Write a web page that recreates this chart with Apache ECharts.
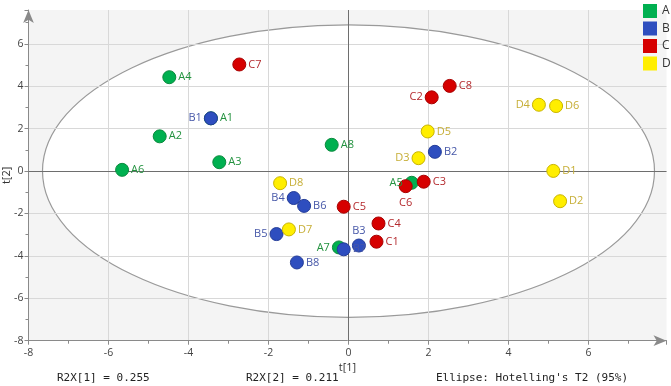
<!DOCTYPE html>
<html>
<head>
<meta charset="utf-8">
<script src="https://cdn.jsdelivr.net/npm/echarts@6/dist/echarts.min.js"></script>
<style>
  html, body { margin: 0; padding: 0; background: #fff; }
  #chart { width: 671px; height: 386px; }
</style>
</head>
<body>
<div id="chart"></div>
<script>
// score values: [t1, t2, name]
const groupA = [
  [-3.44, 2.49, 'A1'], [-4.72, 1.64, 'A2'], [-3.23, 0.42, 'A3'], [-4.48, 4.43, 'A4'],
  [1.58, -0.55, 'A5'], [-5.66, 0.06, 'A6'], [-0.24, -3.60, 'A7'], [-0.42, 1.24, 'A8']
];
const groupB = [
  [-3.44, 2.49, 'B1'], [2.16, 0.91, 'B2'], [0.26, -3.51, 'B3'], [-1.37, -1.27, 'B4'],
  [-1.80, -2.97, 'B5'], [-1.11, -1.64, 'B6'], [-0.12, -3.69, 'B7'], [-1.29, -4.31, 'B8']
];
const groupC = [
  [0.70, -3.33, 'C1'], [2.08, 3.48, 'C2'], [1.88, -0.50, 'C3'], [0.75, -2.47, 'C4'],
  [-0.12, -1.68, 'C5'], [1.43, -0.71, 'C6'], [-2.73, 5.03, 'C7'], [2.53, 4.02, 'C8']
];
const groupD = [
  [5.12, 0.01, 'D1'], [5.29, -1.42, 'D2'], [1.75, 0.61, 'D3'], [4.76, 3.13, 'D4'],
  [1.98, 1.87, 'D5'], [5.19, 3.07, 'D6'], [-1.49, -2.75, 'D7'], [-1.71, -0.57, 'D8']
];
const groupNames = ['A', 'B', 'C', 'D'];
const footerTexts = ['R2X[1] = 0.255', 'R2X[2] = 0.211', "Ellipse: Hotelling's T2 (95%)"];
// Hotelling ellipse: centre and semi-axes in score units
const ellipseData = [[0, 0, 7.65, 6.9]];

const leftLabels = ['B1', 'A5', 'A7', 'B4', 'B5', 'C2', 'D3', 'D4'];
const bottomLabels = ['C6'];
const topLabels = ['B3'];

const fills = ['#00b050', '#2e4ebf', '#d60000', '#ffee00'];
const strokes = ['#0b8a3e', '#233c98', '#a80000', '#c9b400'];
const textColors = ['#23923f', '#4657a8', '#b42a2e', '#c6ae36'];

const chart = echarts.init(document.getElementById('chart'), null, { renderer: 'canvas' });

function pointSeries(name, rows, i) {
  return {
    name: name,
    type: 'scatter',
    z: 5,
    symbolSize: 13,
    itemStyle: { color: fills[i], borderColor: strokes[i], borderWidth: 1, opacity: 1 },
    label: {
      show: true,
      position: 'right',
      distance: 2,
      color: textColors[i],
      fontFamily: 'Open Sans',
      fontSize: 11,
      formatter: p => p.value[2]
    },
    data: rows.map(r => {
      const item = { value: r };
      if (leftLabels.includes(r[2])) item.label = { position: 'left' };
      if (bottomLabels.includes(r[2])) item.label = { position: 'bottom', distance: 4 };
      if (topLabels.includes(r[2])) item.label = { position: 'top', distance: 2 };
      return item;
    })
  };
}

const option = {
  animation: false,
  textStyle: { fontFamily: 'Open Sans' },
  grid: {
    left: 28.5, right: 4.5, top: 10, bottom: 45.3,
    outerBoundsMode: 'none', containLabel: false,
    show: true, backgroundColor: '#f4f4f4', borderWidth: 0
  },
  legend: {
    data: groupNames.map(n => ({ name: n, icon: 'rect' })),
    orient: 'vertical',
    left: 643, top: 4, padding: 0,
    itemWidth: 14, itemHeight: 14, itemGap: 3.5,
    itemStyle: { borderWidth: 0 },
    textStyle: { fontSize: 12, color: '#333', padding: [0, 0, 0, 0] }
  },
  xAxis: {
    type: 'value', min: -8, max: 7.95, interval: 2, z: 3,
    name: 't[1]', nameLocation: 'middle', nameGap: 22, nameMoveOverlap: false,
    nameTextStyle: { fontSize: 11, color: '#333' },
    axisLine: { onZero: false, lineStyle: { color: '#8a8a8a' }, symbol: ['none', 'arrow'], symbolSize: [8, 13] },
    axisTick: { show: true, length: 4, lineStyle: { color: '#8a8a8a' } },
    minorTick: { show: true, splitNumber: 2, length: 3, lineStyle: { color: '#8a8a8a' } },
    axisLabel: {
      fontSize: 10.5, color: '#444', margin: 7,
      formatter: v => (Math.abs(v % 2) < 1e-6 ? String(v) : '')
    },
    splitLine: { show: true, showMinLine: false, showMaxLine: false, lineStyle: { color: '#d8d8d8' } }
  },
  yAxis: {
    type: 'value', min: -8, max: 7.6, interval: 2, z: 3,
    name: 't[2]', nameLocation: 'middle', nameGap: 16, nameRotate: 90, nameMoveOverlap: false,
    nameTextStyle: { fontSize: 11, color: '#333' },
    axisLine: { show: true, onZero: false, lineStyle: { color: '#8a8a8a' }, symbol: ['none', 'arrow'], symbolSize: [8, 13] },
    axisTick: { show: true, length: 4, lineStyle: { color: '#8a8a8a' } },
    minorTick: { show: true, splitNumber: 2, length: 3, lineStyle: { color: '#8a8a8a' } },
    axisLabel: {
      fontSize: 10.5, color: '#444', margin: 5,
      formatter: v => (Math.abs(v % 2) < 1e-6 ? String(v) : '')
    },
    splitLine: { show: true, showMinLine: false, showMaxLine: false, lineStyle: { color: '#d8d8d8' } }
  },
  graphic: [
    { type: 'text', left: 57, top: 373, style: { text: footerTexts[0], font: '11px "DejaVu Sans Mono"', fill: '#222' } },
    { type: 'text', left: 246, top: 373, style: { text: footerTexts[1], font: '11px "DejaVu Sans Mono"', fill: '#222' } },
    { type: 'text', left: 436, top: 373, style: { text: footerTexts[2], font: '11px "DejaVu Sans Mono"', fill: '#222' } }
  ],
  series: [
    {
      name: 'ellipse',
      type: 'custom',
      z: 1,
      silent: true,
      clip: true,
      renderItem: (params, api) => {
        const c = api.coord([api.value(0), api.value(1)]);
        const s = api.size([api.value(2), api.value(3)]);
        return {
          type: 'ellipse',
          shape: { cx: c[0], cy: c[1], rx: s[0], ry: s[1] },
          style: { fill: '#ffffff', stroke: '#9a9a9a', lineWidth: 1.2 }
        };
      },
      data: ellipseData
    },
    {
      name: 'zero',
      type: 'scatter',
      z: 4,
      data: [],
      markLine: {
        silent: true,
        symbol: 'none',
        label: { show: false },
        lineStyle: { color: '#6e6e6e', type: 'solid', width: 1 },
        data: [{ xAxis: 0 }, { yAxis: 0 }]
      }
    },
    pointSeries('A', groupA, 0),
    pointSeries('B', groupB, 1),
    pointSeries('C', groupC, 2),
    pointSeries('D', groupD, 3)
  ]
};

chart.setOption(option);
</script>
</body>
</html>
